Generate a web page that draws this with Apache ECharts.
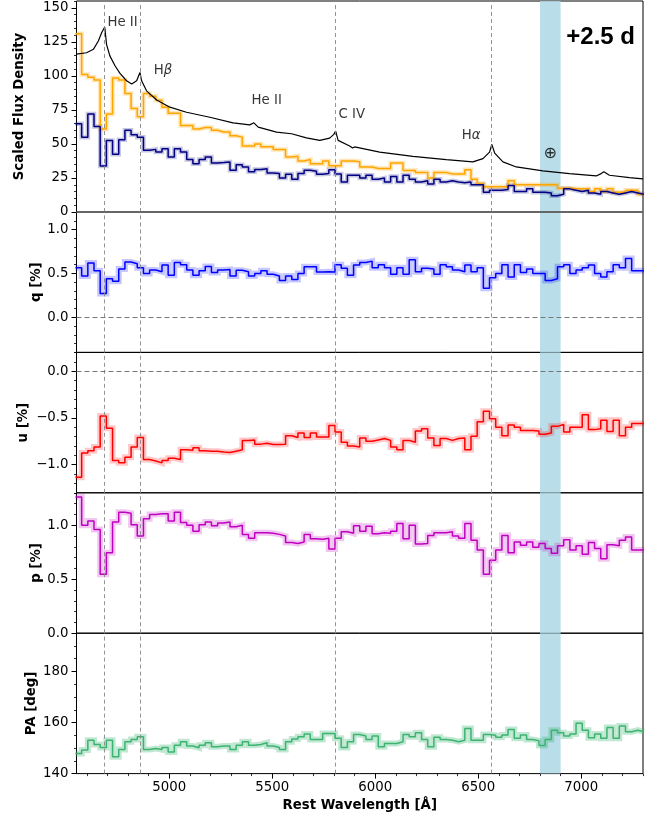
<!DOCTYPE html>
<html><head><meta charset="utf-8">
<script src="https://cdn.jsdelivr.net/npm/echarts@6/dist/echarts.min.js"></script>
<style>html,body{margin:0;padding:0;background:#fff}#c{width:658px;height:820px}</style>
</head><body><div id="c"></div><script>
// ---------- DATA ----------
// left edges of the 30 A wavelength bins (Angstrom)
const binStart = [
4545,4575,4605,4635,4665,4695,4725,4755,4785,4815,
4845,4875,4905,4935,4965,4995,5025,5055,5085,5115,
5145,5175,5205,5235,5265,5295,5325,5355,5385,5415,
5445,5475,5505,5535,5565,5595,5625,5655,5685,5715,
5745,5775,5805,5835,5865,5895,5925,5955,5985,6015,
6045,6075,6105,6135,6165,6195,6225,6255,6285,6315,
6345,6375,6405,6435,6465,6495,6525,6555,6585,6615,
6645,6675,6705,6735,6765,6795,6825,6855,6885,6915,
6945,6975,7005,7035,7065,7095,7125,7155,7185,7215,
7245,7275];
const binLastEdge = 7305;

const fluxOrange = [
131,101,99,97,61,72,98.5,97,87,76,
70,87,85,82,77,72.5,72.5,63.5,63.5,61,
62,62,60,58.7,58.7,56,55,48.5,48.5,50,
48,48,46,46,40.4,41,37.5,38.5,35.5,35.5,
37.5,34,34,37.5,37.5,37,33,33,32,32,
32,36,36,30.5,30.5,29,29,25,29,29,
28,28,28,31,24,21,18.5,18.5,18.5,18.5,
23,20,20,20,20,20,20,20,17.5,17.5,
17,17,17,15,17,15,17,14.5,14.5,16,
16,13];
const fluxNavy = [
64.8,55,72,62.8,33.8,52.6,42.4,53,60,56.7,
55,45.3,46,44,46.5,40.4,46.5,44,38.5,35.5,
38.5,40.4,36,36.3,36.8,30.7,34.8,33.1,29.5,31.2,
31.7,28.7,28.2,25,27.8,24.1,28.2,30.7,30,27.8,
28.2,31,28,22,27,27,25,27,24,25,
22,26,22,27,24,22,23,20.5,24,22,
23,22,21.5,22,20,20,14.5,16,16,16.5,
19.5,15,15,17,14.5,14.5,14,12,13,17,
16,15,16,14,13,15,14,13,14,15,
14,13];
// smooth total-flux spectrum
const specWave = [4550,4599,4632,4656,4672,4687,4696,4712,4737,4761,4793,4818,4842,4858,4866,4890,4939,5003,5084,5197,5310,5391,5411,5432,5521,5594,5666,5731,5779,5799,5808,5820,5876,5890,5900,6022,6183,6345,6474,6523,6555,6566,6580,6620,6685,6814,6943,7073,7097,7110,7137,7234,7300];
const specFlux = [116,117,119.5,125.6,131.7,135.9,123,114.7,107.4,101.8,96.4,94,96.4,102.5,96.4,89,82.3,77,73.3,69.6,65.5,64,65.5,62.3,58.7,57.5,54.5,52.6,54.3,57,59.4,52.6,48.5,47,47.8,44,40.9,38.5,36.8,39.2,44,49.7,43.3,36.8,33.1,30.2,28.2,26.5,28.2,29.5,27,25.3,24.3];

const qVals = [
0.565,0.47,0.62,0.53,0.27,0.44,0.41,0.55,0.63,0.61,
0.565,0.50,0.54,0.52,0.595,0.48,0.625,0.60,0.54,0.48,
0.53,0.58,0.51,0.54,0.545,0.47,0.535,0.52,0.47,0.50,
0.53,0.49,0.47,0.42,0.47,0.43,0.50,0.575,0.575,0.515,
0.52,0.515,0.60,0.56,0.48,0.595,0.625,0.64,0.565,0.60,
0.565,0.49,0.565,0.49,0.655,0.52,0.56,0.55,0.49,0.60,
0.575,0.54,0.52,0.595,0.52,0.565,0.33,0.45,0.50,0.60,
0.46,0.60,0.51,0.55,0.50,0.50,0.42,0.44,0.575,0.60,
0.50,0.54,0.565,0.595,0.50,0.46,0.52,0.60,0.565,0.67,
0.53,0.53];
const uVals = [
-1.135,-0.875,-0.85,-0.81,-0.48,-0.61,-0.955,-0.98,-0.92,-0.81,
-0.71,-0.945,-0.96,-0.98,-0.955,-0.93,-0.945,-0.84,-0.845,-0.82,
-0.85,-0.855,-0.855,-0.865,-0.87,-0.855,-0.84,-0.74,-0.735,-0.78,
-0.77,-0.785,-0.785,-0.78,-0.69,-0.71,-0.66,-0.71,-0.66,-0.705,
-0.705,-0.58,-0.65,-0.76,-0.80,-0.81,-0.715,-0.75,-0.735,-0.72,
-0.74,-0.81,-0.84,-0.74,-0.76,-0.64,-0.615,-0.715,-0.795,-0.72,
-0.74,-0.72,-0.715,-0.84,-0.695,-0.54,-0.43,-0.51,-0.60,-0.69,
-0.575,-0.60,-0.635,-0.635,-0.64,-0.675,-0.66,-0.59,-0.57,-0.65,
-0.60,-0.60,-0.465,-0.625,-0.615,-0.525,-0.645,-0.525,-0.69,-0.60,
-0.56,-0.56];
const pVals = [
1.26,1.00,1.04,0.96,0.545,0.745,1.03,1.12,1.11,1.005,
0.90,1.06,1.10,1.105,1.105,1.04,1.12,1.025,1.00,0.945,
1.005,1.03,0.995,1.02,1.03,0.985,1.00,0.915,0.88,0.93,
0.93,0.925,0.915,0.90,0.84,0.83,0.845,0.915,0.875,0.87,
0.88,0.78,0.88,0.94,0.925,0.995,0.945,0.99,0.92,0.93,
0.925,0.945,1.015,0.875,1.00,0.825,0.83,0.905,0.93,0.93,
0.94,0.90,0.88,1.015,0.86,0.77,0.545,0.675,0.77,0.905,
0.745,0.845,0.815,0.845,0.795,0.83,0.785,0.74,0.81,0.865,
0.77,0.81,0.73,0.84,0.785,0.69,0.82,0.81,0.86,0.89,
0.77,0.77];
const paVals = [
147.9,149.2,153.1,151.4,150.2,153.1,146.6,149.4,152.5,153.4,
154.4,149.4,149.8,149.4,150.2,148.5,151.1,152.5,150.8,150.1,
151.1,152.1,150.5,150.8,150.8,149.4,151.1,152.5,151.1,151.4,
152.1,150.8,150.2,149.4,152.5,153.6,154.4,155.5,153.4,153.4,
155.7,155.7,153.8,150.2,152.5,155.3,154.7,153.4,154.7,150.5,
151.8,151.8,152.5,155.3,154.4,156.0,153.4,150.5,154.2,153.4,
153.1,152.5,153.1,157.7,153.1,153.1,155.3,155.0,154.2,155.1,
157.3,153.8,155.1,153.4,152.9,151.0,153.4,157.0,156.0,154.7,
155.5,159.7,157.0,154.0,155.5,153.8,158.1,153.8,158.6,156.4,
157.0,156.4];

// line identifications
const lineWaves = [4686, 4861, 5808, 6563];
const telluricBand = [6800, 6900];
const annText = ['He II', 'H{g|β}', 'He II', 'C IV', 'H{g|α}'];
const annWave = [4700, 4925, 5400, 5822, 6420];
const annFlux = [139, 104, 82, 71.3, 56.2];
const earthWave = 6850, earthFlux = 42.8;
const epochLabel = '+2.5 d';

// tick values
const xMajor = [5000, 5500, 6000, 6500, 7000];
const fluxTicks = [0, 25, 50, 75, 100, 125, 150];
const qTicks = [0.0, 0.5, 1.0];
const uTicks = [-1.0, -0.5, 0.0];
const pTicks = [0.0, 0.5, 1.0];
const paTicks = [140, 160, 180];
const yTitles = ['Scaled Flux Density', 'q [%]', 'u [%]', 'p [%]', 'PA [deg]'];

// ---------- BUILD ----------
function range(a, b, s) { const r = []; const n = Math.round((b - a) / s); for (let i = 0; i <= n; i++) r.push(+(a + i * s).toFixed(4)); return r; }
const xMinor = range(4600, 7300, 100);
const FONT = 'DejaVu Sans';
const FS = 13.3;
const L = 76.5, W = 566.5;
const grids = [
  { top: 1, height: 211 },
  { top: 212, height: 140.4 },
  { top: 352.4, height: 140.4 },
  { top: 492.8, height: 140.4 },
  { top: 633.2, height: 140.4 }
];
const panels = [
  { min: 0, max: 155, major: fluxTicks, minor: range(0, 155, 5), dec: 0, zero: 'solid' },
  { min: -0.4, max: 1.2, major: qTicks, minor: range(-0.4, 1.2, 0.1), dec: 1, zero: 'dash' },
  { min: -1.3, max: 0.2, major: uTicks, minor: range(-1.3, 0.2, 0.1), dec: 1, zero: 'dash' },
  { min: 0, max: 1.3, major: pTicks, minor: range(0, 1.3, 0.1), dec: 1, zero: null },
  { min: 140, max: 195, major: paTicks, minor: range(140, 195, 5), dec: 0, zero: null }
];
const fmt = dec => v => { const s = Math.abs(v).toFixed(dec); return v < -1e-9 ? '\u2212' + s : s; };

function stepData(vals) {
  const d = binStart.map((w, i) => [w, vals[i]]);
  d.push([binLastEdge, vals[vals.length - 1]]);
  return d;
}

const option = {
  animation: false,
  backgroundColor: '#fff',
  textStyle: { fontFamily: FONT },
  grid: grids.map(g => ({ left: L, width: W, top: g.top, height: g.height, show: true, borderColor: '#000', borderWidth: 1, backgroundColor: 'transparent', containLabel: false })),
  xAxis: [],
  yAxis: [],
  series: [],
  graphic: []
};

grids.forEach((g, i) => {
  const bottom = i === 4;
  option.xAxis.push({
    gridIndex: i, type: 'value', min: 4550, max: 7300, position: 'bottom',
    axisLine: { show: false }, splitLine: { show: false },
    axisTick: { show: bottom, customValues: xMajor, length: 5, lineStyle: { color: '#000', width: 1 } },
    axisLabel: { show: bottom, customValues: xMajor, fontSize: FS, color: '#000', margin: 7, fontFamily: FONT, formatter: v => String(v) }
  });
  const p = panels[i];
  option.yAxis.push({
    gridIndex: i, type: 'value', min: p.min, max: p.max, position: 'left', offset: 0,
    axisLine: { show: false }, splitLine: { show: false },
    axisTick: { show: true, customValues: p.major, length: 5, lineStyle: { color: '#000', width: 1 } },
    axisLabel: { show: true, customValues: p.major, fontSize: FS, color: '#000', margin: 8, fontFamily: FONT, formatter: fmt(p.dec) }
  });
  option.yAxis.push({
    gridIndex: i, type: 'value', min: p.min, max: p.max, position: 'left', offset: 0,
    axisLine: { show: false }, splitLine: { show: false },
    axisTick: { show: true, customValues: p.minor, length: 2.5, lineStyle: { color: '#000', width: 0.8 } },
    axisLabel: { show: false }
  });
  // guides: vertical dashed lines, telluric band, zero line
  const ml = lineWaves.map(x => ({ xAxis: x }));
  if (p.zero === 'solid') ml.push({ yAxis: 0, lineStyle: { type: 'solid', color: '#666', width: 2 } });
  if (p.zero === 'dash') ml.push({ yAxis: 0, lineStyle: { type: [5, 3], color: '#777', width: 1.2 } });
  option.series.push({
    type: 'line', xAxisIndex: i, yAxisIndex: 2 * i, data: [[4550, p.min]], symbol: 'none', silent: true, z: 1,
    lineStyle: { opacity: 0 },
    markLine: { symbol: 'none', silent: true, label: { show: false }, animation: false,
      lineStyle: { type: [4, 3], color: '#888', width: 0.9 }, data: ml },
    markArea: { silent: true, itemStyle: { color: '#add8e6', opacity: 0.85 },
      data: [[{ xAxis: telluricBand[0] }, { xAxis: telluricBand[1] }]] }
  });
});
// bottom minor x ticks
option.xAxis.push({
  gridIndex: 4, type: 'value', min: 4550, max: 7300, position: 'bottom',
  axisLine: { show: false }, splitLine: { show: false },
  axisTick: { show: true, customValues: xMinor, length: 2.5, lineStyle: { color: '#000', width: 0.8 } },
  axisLabel: { show: false }
});

function addStep(grid, vals, color, band, bandW) {
  option.series.push({ type: 'line', xAxisIndex: grid, yAxisIndex: 2 * grid, step: 'end', data: stepData(vals),
    symbol: 'none', z: 2, silent: true, lineStyle: { color: band, width: bandW, join: 'miter' } });
  option.series.push({ type: 'line', xAxisIndex: grid, yAxisIndex: 2 * grid, step: 'end', data: stepData(vals),
    symbol: 'none', z: 3, silent: true, lineStyle: { color: color, width: 1.5 } });
}
addStep(0, fluxOrange, '#FFA500', 'rgba(255,165,0,0.28)', 4.5);
addStep(0, fluxNavy, '#000080', 'rgba(0,0,128,0.22)', 4.5);
option.series.push({ type: 'line', xAxisIndex: 0, yAxisIndex: 0, data: specWave.map((w, i) => [w, specFlux[i]]),
  symbol: 'none', z: 4, silent: true, lineStyle: { color: '#000', width: 1.2 } });
addStep(1, qVals, '#0000FF', 'rgba(0,0,255,0.22)', 6);
addStep(2, uVals, '#FF0000', 'rgba(255,0,0,0.22)', 6);
addStep(3, pVals, '#C000C0', 'rgba(192,0,192,0.22)', 6);
addStep(4, paVals, '#3CB371', 'rgba(60,179,113,0.32)', 6);

// annotations
option.series.push({
  type: 'scatter', xAxisIndex: 0, yAxisIndex: 0, symbolSize: 0, z: 6, silent: true,
  data: annWave.map((w, i) => ({ value: [w, annFlux[i]], name: annText[i] })).concat([
    { value: [earthWave, earthFlux], name: '\u2295', label: { align: 'center', fontSize: 16 } }
  ]),
  label: { show: true, position: [0, 0], align: 'left', verticalAlign: 'middle', color: '#000', fontSize: FS, fontFamily: FONT,
    formatter: p => p.name, rich: { g: { fontStyle: 'italic', fontSize: FS, fontFamily: FONT, color: '#000' } } }
});

// titles
const titleX = [20, 36.7, 24, 36.7, 32];
grids.forEach((g, i) => {
  option.graphic.push({ type: 'text', x: titleX[i], y: g.top + g.height / 2, rotation: Math.PI / 2, silent: true,
    style: { text: yTitles[i], font: 'bold 13.3px "DejaVu Sans"', fill: '#000', align: 'center', verticalAlign: 'middle' } });
});
option.graphic.push({ type: 'text', x: L + W / 2, y: 806, silent: true,
  style: { text: 'Rest Wavelength [Å]', font: 'bold 13.3px "DejaVu Sans"', fill: '#000', align: 'center', verticalAlign: 'middle' } });
option.graphic.push({ type: 'text', x: 635, y: 37, silent: true,
  style: { text: epochLabel, font: 'bold 24px "Liberation Sans"', fill: '#000', align: 'right', verticalAlign: 'middle' } });

const chart = echarts.init(document.getElementById('c'), null, { renderer: 'canvas' });
chart.setOption(option);
</script></body></html>
